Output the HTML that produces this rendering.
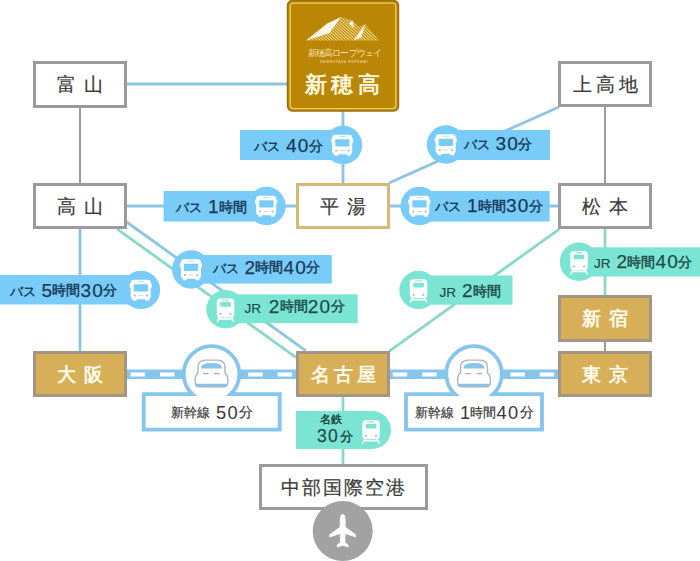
<!DOCTYPE html>
<html><head><meta charset="utf-8">
<style>
html,body{margin:0;padding:0;background:#fff;}
body{width:700px;height:561px;position:relative;overflow:hidden;font-family:"Liberation Sans",sans-serif;}
svg{position:absolute;left:0;top:0;}
.bx{position:absolute;box-sizing:border-box;border:3px solid #9b9b9b;background:#fff;color:#3a3a3a;font-size:18.5px;display:flex;align-items:center;justify-content:center;white-space:nowrap;}
.bx span{display:block;line-height:1;position:relative;top:1px;-webkit-text-stroke:0.2px currentColor;}
.gd span{-webkit-text-stroke:0;}
.gd{background:#d7af59;border-color:#a39783;color:#fffbea;font-weight:bold;}
.tn{border-color:#d5b978;}
.t{position:absolute;white-space:nowrap;font-size:19px;line-height:19px;color:#183a58;}
.g .t,.t.g{color:#1d4e4c;}
.t.s{color:#3a3a3a;}
.t.s .m{-webkit-text-stroke:0.2px currentColor;}
.t.s .d{-webkit-text-stroke:0;}
.k{font-size:12.5px;-webkit-text-stroke:0.4px currentColor;position:relative;top:-1px;}
.j{font-size:13.5px;-webkit-text-stroke:0.2px currentColor;}
.d{font-size:19px;letter-spacing:1.2px;margin-right:-0.8px;-webkit-text-stroke:0.25px currentColor;}
.m{font-size:13.6px;-webkit-text-stroke:0.45px currentColor;position:relative;top:-1.5px;}
</style></head><body>
<svg width="700" height="561" viewBox="0 0 700 561">
  <!-- gray lines -->
  <g stroke="#9b9b9b" stroke-width="2" fill="none">
    <line x1="80" y1="107" x2="80" y2="184"/>
    <line x1="605" y1="106" x2="605" y2="184"/>
    <line x1="605" y1="341" x2="605" y2="352"/>
  </g>
  <!-- blue lines -->
  <g stroke="#8cc4e2" stroke-width="2.8" fill="none">
    <line x1="126" y1="84" x2="288" y2="84"/>
    <line x1="343" y1="110" x2="343" y2="184"/>
    <line x1="126" y1="206" x2="297" y2="206"/>
    <line x1="389" y1="206" x2="560" y2="206"/>
    <line x1="80" y1="228" x2="80" y2="352"/>
    <line x1="389" y1="183" x2="559" y2="107"/>
    <line x1="126.6" y1="222" x2="305.7" y2="350.6"/>
  </g>
  <g stroke="#8ad8c9" stroke-width="2.8" fill="none">
    <line x1="116.9" y1="228.9" x2="296" y2="357.4"/>
    <line x1="389" y1="351.4" x2="559.6" y2="228.9"/>
    <line x1="605" y1="228" x2="605" y2="296"/>
    <line x1="343" y1="396" x2="343" y2="464"/>
  </g>
  <!-- shinkansen rails -->
  <g>
    <rect x="126" y="369.5" width="171" height="9.5" fill="#86c5ec"/>
    <rect x="389" y="369.5" width="171" height="9.5" fill="#86c5ec"/>
    <g stroke="#fff" stroke-width="4" stroke-dasharray="14.5 14.9">
      <line x1="130.6" y1="374.5" x2="296" y2="374.5"/>
      <line x1="392.7" y1="374.5" x2="559" y2="374.5"/>
    </g>
  </g>
  <!-- shinkansen boxes -->
  <g fill="#fff" stroke="#86c5ec" stroke-width="3.8">
    <path d="M192.4 394.2 A27.8 27.8 0 1 1 230.6 394.2 L279.7 394.2 L279.7 429.7 L143.7 429.7 L143.7 394.2 Z"/>
    <path d="M454.9 394.2 A27.8 27.8 0 1 1 493.1 394.2 L542 394.2 L542 429.7 L406 429.7 L406 394.2 Z"/>
  </g>
  <!-- blue labels -->
  <g fill="#79ccf8">
    <rect x="240" y="130" width="103" height="30"/><circle cx="343" cy="145" r="19.2"/>
    <rect x="446" y="130" width="104" height="30"/><circle cx="446" cy="144.5" r="19.2"/>
    <rect x="163.6" y="191" width="103" height="30.5"/><circle cx="266.5" cy="206" r="19.2"/>
    <rect x="419.6" y="191" width="130" height="30.5"/><circle cx="419.6" cy="206" r="19.2"/>
    <rect x="191.2" y="255" width="140.6" height="28.6"/><circle cx="191.2" cy="269.5" r="19.2"/>
    <rect x="0" y="275" width="141" height="29.5"/><circle cx="141" cy="290" r="19.2"/>
  </g>
  <g fill="#7ce4d3">
    <rect x="225.5" y="294.3" width="132.2" height="28.9"/><circle cx="225.5" cy="309.3" r="19.2"/>
    <rect x="418.5" y="275.5" width="94" height="29.2"/><circle cx="418.5" cy="290" r="19.2"/>
    <rect x="579" y="247.3" width="121" height="29.2"/><circle cx="579" cy="261.8" r="19.2"/>
    <path d="M296 411 H372 A19 19 0 0 1 372 449 H296 Z"/>
  </g>
  <!-- 新穂高 box -->
  <rect x="287.5" y="0.5" width="111" height="110.5" rx="5" fill="#ba8606" stroke="#9a7010" stroke-width="1.5"/>
  <rect x="290.2" y="3.2" width="105.6" height="105.4" rx="3" fill="none" stroke="#f3cd5a" stroke-width="1.3"/>
  <!-- airplane circle drawn later on top of box -->
</svg>

<!-- station boxes -->
<div class="bx" style="left:33px;top:61px;width:94px;height:47px;"><span style="letter-spacing:8px;text-indent:8px">富山</span></div>
<div class="bx" style="left:558px;top:61px;width:94px;height:46px;"><span style="letter-spacing:4px;text-indent:4px">上高地</span></div>
<div class="bx" style="left:33px;top:183px;width:94px;height:46px;"><span style="letter-spacing:8px;text-indent:8px">高山</span></div>
<div class="bx tn" style="left:296px;top:183px;width:94px;height:46px;"><span style="letter-spacing:8px;text-indent:8px">平湯</span></div>
<div class="bx" style="left:558px;top:183px;width:94px;height:46px;"><span style="letter-spacing:8px;text-indent:8px">松本</span></div>
<div class="bx gd" style="left:33px;top:351px;width:94px;height:46px;"><span style="letter-spacing:8px;text-indent:8px">大阪</span></div>
<div class="bx gd" style="left:296px;top:351px;width:94px;height:46px;"><span style="letter-spacing:4px;text-indent:4px">名古屋</span></div>
<div class="bx gd" style="left:558px;top:295px;width:94px;height:47px;"><span style="letter-spacing:8px;text-indent:8px">新宿</span></div>
<div class="bx gd" style="left:558px;top:351px;width:94px;height:46px;"><span style="letter-spacing:8px;text-indent:8px">東京</span></div>
<div class="bx" style="left:258.5px;top:463.5px;width:169px;height:46.5px;"><span style="letter-spacing:2px;text-indent:2px">中部国際空港</span></div>

<svg width="700" height="561" viewBox="0 0 700 561">
  <circle cx="342.7" cy="531" r="30" fill="#a2a2a2"/>
  <path d="M342.7 514 C344.6 514 345.6 517 345.6 520 L345.6 527 L356 534.5 L356 537.5 L345.6 534 L345.2 542 L348.5 545 L348.5 547.5 L342.7 545.8 L336.9 547.5 L336.9 545 L340.2 542 L339.8 534 L329.4 537.5 L329.4 534.5 L339.8 527 L339.8 520 C339.8 517 340.8 514 342.7 514 Z" fill="#fff"/>
</svg>

<!-- 新穂高 content -->
<svg width="700" height="561" viewBox="0 0 700 561">
  <defs>
    <pattern id="stp" width="2.2" height="2.2" patternUnits="userSpaceOnUse" patternTransform="rotate(42)">
      <rect x="0" y="0" width="2.2" height="1.05" fill="#f6d986"/>
    </pattern>
  </defs>
  <polygon points="306,40.5 341,17 352.5,20.5 358.5,27 365.3,24.3 379,40.5" fill="url(#stp)"/>
  <g fill="#fff8e8">
    <polygon points="306,40.5 327.2,23.5 341,17 329.5,33"/>
    <polygon points="348.8,23.2 352.6,20.4 354,28"/>
    <polygon points="353.5,40.5 365.3,24.3 361.2,37.5"/>
  </g>
</svg>
<div class="t" style="left:307.5px;top:49px;font-size:9px;line-height:9px;color:#f6e2b0;letter-spacing:-0.8px">新穂高ロープウェイ</div>
<div class="t" style="left:320px;top:60.5px;font-size:3.2px;line-height:3.5px;color:#e9cf8a;letter-spacing:0.6px;font-weight:bold">SHINHOTAKA ROPEWAY</div>
<div class="t" style="left:304.5px;top:73.5px;font-size:22px;line-height:22px;color:#fff6dc;font-weight:bold;letter-spacing:4.6px">新穂高</div>

<svg width="700" height="561" viewBox="0 0 700 561">
  <defs>
    <g id="bus">
      <rect x="-10.3" y="-10.3" width="20" height="19.5" rx="3" fill="#fff"/>
      <rect x="-11.3" y="-6.5" width="22" height="4.5" rx="0.8" fill="#fff"/>
      <rect x="-8.3" y="7" width="4" height="3.8" rx="1" fill="#fff"/>
      <rect x="4.3" y="7" width="4" height="3.8" rx="1" fill="#fff"/>
      <rect x="-7.3" y="-5.8" width="14.3" height="7.2" rx="1" fill="#79ccf8"/>
      <rect x="-3.5" y="-8.8" width="6.5" height="0.9" fill="#b9d9ee"/>
      <circle cx="-6.3" cy="5.6" r="1.1" fill="#a9b9c5"/>
      <circle cx="6" cy="5.6" r="1.1" fill="#a9b9c5"/>
      <rect x="-2.5" y="5.1" width="5" height="0.9" fill="#c5d5e0"/>
    </g>
    <g id="train">
      <rect x="-8.7" y="-10.7" width="17.5" height="18.8" rx="3.5" fill="#fff"/>
      <path d="M-6 7.5 L-8.3 12.5 M6 7.5 L8.3 12.5 M-7 9.6 H7" stroke="#fff" stroke-width="1.6" fill="none"/>
      <rect x="-5.3" y="-7.2" width="10.7" height="4.7" rx="0.8" fill="#7ce4d3"/>
      <rect x="-3.5" y="-9.6" width="7" height="0.9" fill="#a7c9c3"/>
      <circle cx="-5" cy="4.8" r="1.1" fill="#a9b9b6"/>
      <circle cx="5" cy="4.8" r="1.1" fill="#a9b9b6"/>
    </g>
    <g id="shk">
      <path d="M-13.5 -1 L-13.5 -6.5 Q-13.5 -13.9 -6 -13.9 L6 -13.9 Q13.5 -13.9 13.5 -6.5 L13.5 -1 Q16.3 1 16.3 5 L16.3 8.5 Q16.3 12.8 12 12.8 L-12 12.8 Q-16.3 12.8 -16.3 8.5 L-16.3 5 Q-16.3 1 -13.5 -1 Z" fill="#fff" stroke="#adb5bb" stroke-width="1.4"/>
      <path d="M-10.6 -5.6 Q-10.6 -11 0 -11 Q10.6 -11 10.6 -5.6 Z" fill="#86c5ec"/>
      <path d="M-8.5 -0.4 H-3 M2.5 -0.4 H8" stroke="#a3acb3" stroke-width="1.4"/>
      <path d="M-15.6 9.8 H15.6 Q15.3 12.1 12 12.1 L-12 12.1 Q-15.3 12.1 -15.6 9.8 Z" fill="#86c5ec"/>
    </g>
  </defs>
  <use href="#bus" x="342.5" y="145"/><use href="#bus" x="446" y="144.5"/><use href="#bus" x="266.5" y="206"/><use href="#bus" x="419.6" y="206"/><use href="#bus" x="191.2" y="269.5"/><use href="#bus" x="141" y="290"/>
  <use href="#train" x="225.5" y="309.3"/><use href="#train" x="418.5" y="290"/><use href="#train" x="579" y="261.8"/><use href="#train" x="371" y="431"/>
  <use href="#shk" x="211.5" y="374"/><use href="#shk" x="474" y="374"/>
</svg>
<!-- label texts -->
<div class="t" style="left:254px;top:136.3px"><span class="k">バス</span><span class="d" style=margin-left:6px>40</span><span class="m">分</span></div>
<div class="t" style="left:463.5px;top:134.3px"><span class="k">バス</span><span class="d" style=margin-left:6px>30</span><span class="m">分</span></div>
<div class="t" style="left:176px;top:197.3px"><span class="k">バス</span><span class="d" style=margin-left:6px>1</span><span class="m">時間</span></div>
<div class="t" style="left:435px;top:196.3px"><span class="k">バス</span><span class="d" style=margin-left:6px>1</span><span class="m">時間</span><span class="d">30</span><span class="m">分</span></div>
<div class="t" style="left:212.5px;top:257.8px"><span class="k">バス</span><span class="d" style=margin-left:6px>2</span><span class="m">時間</span><span class="d">40</span><span class="m">分</span></div>
<div class="t g" style="left:244.5px;top:296.9px"><span class="j">JR</span><span class="d" style=margin-left:7.8px>2</span><span class="m">時間</span><span class="d">20</span><span class="m">分</span></div>
<div class="t" style="left:9.5px;top:280.5px"><span class="k">バス</span><span class="d" style=margin-left:6px>5</span><span class="m">時間</span><span class="d">30</span><span class="m">分</span></div>
<div class="t g" style="left:439.5px;top:281.3px"><span class="j">JR</span><span class="d" style=margin-left:6px>2</span><span class="m">時間</span></div>
<div class="t g" style="left:594px;top:252.4px"><span class="j">JR</span><span class="d" style=margin-left:6px>2</span><span class="m">時間</span><span class="d">40</span><span class="m">分</span></div>
<div class="t g" style="left:320px;top:414px;font-size:11px;line-height:11px;-webkit-text-stroke:0.45px currentColor">名鉄</div>
<div class="t g" style="left:317px;top:426.3px"><span class="d" style="font-size:17.5px">30</span><span class="m" style="margin-left:2px;font-size:12.8px">分</span></div>
<div class="t s" style="left:170.5px;top:402.5px"><span class="m" style="font-size:12.8px">新幹線</span><span class="d" style="margin-left:6.5px;font-size:18.3px;letter-spacing:1.3px">50</span><span class="m" style="margin-left:1px">分</span></div>
<div class="t s" style="left:414.5px;top:402.5px"><span class="m" style="font-size:12.8px">新幹線</span><span class="d" style="margin-left:6.5px;font-size:18.3px">1</span><span class="m" style="font-size:12.8px;margin-left:-0.5px">時間</span><span class="d" style="font-size:18.3px;margin-left:0.5px;letter-spacing:1.3px">40</span><span class="m" style="margin-left:1px">分</span></div>
</body></html>
